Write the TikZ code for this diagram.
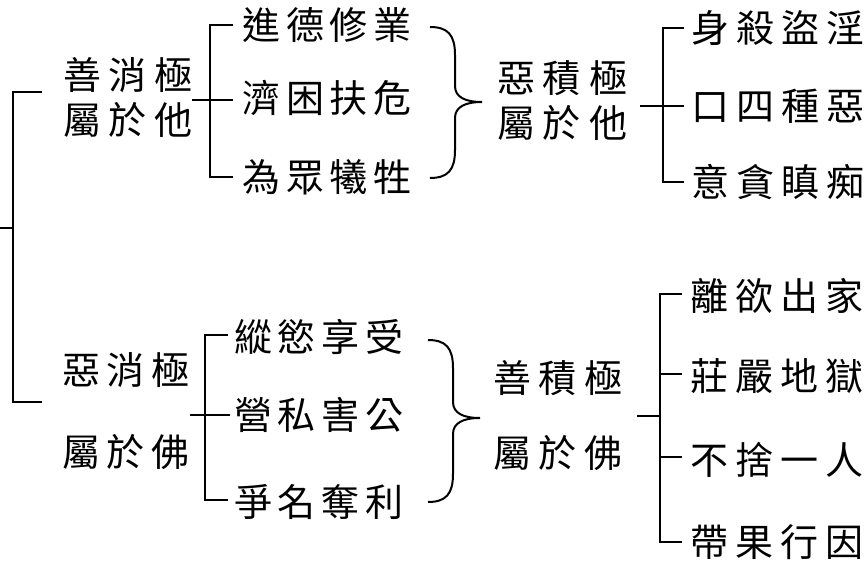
\documentclass[tikz,border=0pt]{standalone}
\usepackage{fontspec}
\newfontfamily\cjk{Noto Sans CJK TC}
\makeatletter
\newcommand\spread[2]{\def\sp@w{#1}\kern-\dimexpr(#1-1em)/2\relax\@tfor\sp@c:=#2\do{\makebox[\sp@w]{\sp@c}}\kern-\dimexpr(#1-1em)/2\relax}
\makeatother
\begin{document}
\begin{tikzpicture}[x=1pt,y=-1pt,
  txt/.style={inner sep=0pt, font=\cjk\fontsize{38}{38}\selectfont},
  ln/.style={line width=2pt, line cap=butt}]
\useasboundingbox (0,0) rectangle (865,567);
% blocks
\node[txt] (a1) at (128,75) {\spread{45.5pt}{善消極}};
\node[txt] (a2) at (128,120) {\spread{45.5pt}{屬於他}};
\node[txt] (c1) at (562,78) {\spread{46pt}{惡積極}};
\node[txt] (c2) at (562,123) {\spread{46pt}{屬於他}};
\node[txt] (d1) at (126,370) {\spread{45pt}{惡消極}};
\node[txt] (d2) at (126,452) {\spread{45pt}{屬於佛}};
\node[txt] (e1) at (558,378) {\spread{45.5pt}{善積極}};
\node[txt] (e2) at (558,453) {\spread{45.5pt}{屬於佛}};
% items
\node[txt] (it1) at (327,25) {\spread{43.5pt}{進德修業}};
\node[txt] (it2) at (327,98) {\spread{43.5pt}{濟困扶危}};
\node[txt] (it3) at (327,177) {\spread{43.5pt}{為眾犧牲}};
\node[txt] (ib1) at (319,337) {\spread{44pt}{縱慾享受}};
\node[txt] (ib2) at (319,415) {\spread{44pt}{營私害公}};
\node[txt] (ib3) at (319,502) {\spread{44pt}{爭名奪利}};
\node[txt] (r1) at (778,28) {\spread{45pt}{身殺盜淫}};
\node[txt] (r2) at (778,106) {\spread{45pt}{口四種惡}};
\node[txt] (r3) at (778,182) {\spread{45pt}{意貪瞋痴}};
\node[txt] (s1) at (777,296) {\spread{45pt}{離欲出家}};
\node[txt] (s2) at (777,376) {\spread{45pt}{莊嚴地獄}};
\node[txt] (s3) at (777,460) {\spread{45pt}{不捨一人}};
\node[txt] (s4) at (777,542) {\spread{45pt}{帶果行因}};
% root bracket
\coordinate (rs) at (0,228);
\coordinate (rv) at (13,228);
\coordinate (rt) at (42,92);
\coordinate (rb) at (42,402);
\draw[ln] (rt) -| (rv) |- (rb);
\draw[ln] (rs) -- (rv);
% bracket A
\coordinate (jA) at (210,100);
\coordinate (mA) at (192,100);
\coordinate (tA1) at (233,25);
\coordinate (tA2) at (233,100);
\coordinate (tA3) at (233,177);
\draw[ln] (tA1) -| (jA) |- (tA3);
\draw[ln] (mA) -- (tA2);
% bracket C
\coordinate (jC) at (663,106);
\coordinate (mC) at (640,106);
\coordinate (tC1) at (684,28);
\coordinate (tC2) at (684,106);
\coordinate (tC3) at (684,182);
\draw[ln] (tC1) -| (jC) |- (tC3);
\draw[ln] (mC) -- (tC2);
% bracket D
\coordinate (jD) at (205,415);
\coordinate (mD) at (190,415);
\coordinate (tD1) at (228,335);
\coordinate (tD2) at (230,415);
\coordinate (tD3) at (228,500);
\draw[ln] (tD1) -| (jD) |- (tD3);
\draw[ln] (mD) -- (tD2);
% bracket E
\coordinate (jE) at (660,416);
\coordinate (mE) at (637,416);
\coordinate (tE1) at (682,294);
\coordinate (tE2) at (682,374);
\coordinate (tE3) at (682,457);
\coordinate (tE4) at (682,542);
\draw[ln] (tE1) -| (jE) |- (tE4);
\draw[ln] (jE |- tE2) -- (tE2);
\draw[ln] (jE |- tE3) -- (tE3);
\draw[ln] (mE) -- (jE);
% braces
\coordinate (bA1) at (430,27);
\coordinate (bA2) at (430,178);
\coordinate (bAt) at (482,102);
\draw[ln] (bA1) .. controls (448,27) and (455,35) .. (455,55) -- (455,86)
  .. controls (455,97) and (465,102) .. (bAt)
  .. controls (465,102) and (455,107) .. (455,118) -- (455,150)
  .. controls (455,170) and (448,178) .. (bA2);
\coordinate (bD1) at (428,340);
\coordinate (bD2) at (428,502);
\coordinate (bDt) at (480,418);
\draw[ln] (bD1) .. controls (446,340) and (453,348) .. (453,368) -- (453,402)
  .. controls (453,413) and (463,418) .. (bDt)
  .. controls (463,418) and (453,423) .. (453,434) -- (453,474)
  .. controls (453,494) and (446,502) .. (bD2);
\end{tikzpicture}
\end{document}
